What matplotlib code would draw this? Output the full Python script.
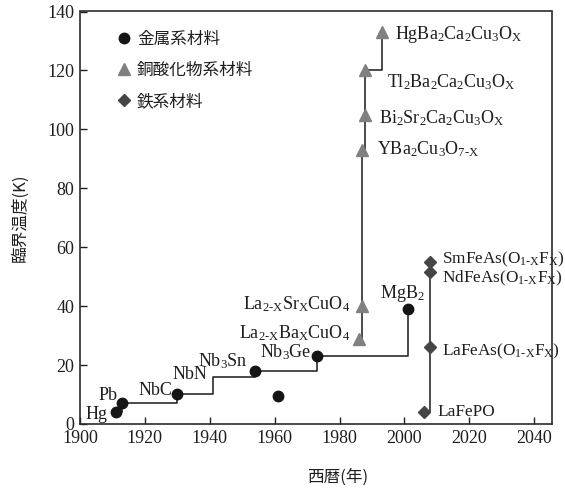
import matplotlib
matplotlib.use("Agg")
import matplotlib.pyplot as plt

plt.rcParams["font.family"] = ["Liberation Serif", "Noto Sans CJK JP"]
plt.rcParams["mathtext.fontset"] = "custom"
plt.rcParams["mathtext.rm"] = "Liberation Serif"
plt.rcParams["mathtext.it"] = "Liberation Serif"
plt.rcParams["mathtext.bf"] = "Liberation Serif:bold"

INK = "#1e1e1e"
LINE = "#2b2b2b"
METAL_COLOR = "#151515"
CUPRATE_COLOR = "#808080"
IRON_COLOR = "#454545"
JP = ["Noto Sans CJK JP", "DejaVu Sans"]

# metal-based superconductors (record line)
metal_names = ["Hg", "Pb", "NbC", "NbN", "Nb$_3$Sn", "Nb$_3$Ge", "MgB$_2$"]
metal_years = [1911, 1913, 1930, 1941, 1954, 1973, 2001]
metal_tc = [4.2, 7.2, 10.2, 16, 18, 23, 39]
metal_marked = [True, True, True, False, True, True, True]
# extra unlabelled metal point
other_years = [1961]
other_tc = [9.5]

# cuprates
cuprate_names = [r"La$_{\mathrm{2\text{-}X}}$Ba$_\mathrm{X}$CuO$_4$",
                 r"La$_{\mathrm{2\text{-}X}}$Sr$_\mathrm{X}$CuO$_4$",
                 r"YBa$_2$Cu$_3$O$_{\mathrm{7\text{-}X}}$",
                 r"Bi$_2$Sr$_2$Ca$_2$Cu$_3$O$_\mathrm{X}$",
                 r"Tl$_2$Ba$_2$Ca$_2$Cu$_3$O$_\mathrm{X}$",
                 r"HgBa$_2$Ca$_2$Cu$_3$O$_\mathrm{X}$"]
cuprate_years = [1986, 1987, 1987, 1988, 1988, 1993]
cuprate_tc = [29, 40, 93, 105, 120, 133]

# iron-based
iron_names = ["LaFePO",
              r"LaFeAs(O$_{\mathrm{1\text{-}X}}$F$_\mathrm{X}$)",
              r"NdFeAs(O$_{\mathrm{1\text{-}X}}$F$_\mathrm{X}$)",
              r"SmFeAs(O$_{\mathrm{1\text{-}X}}$F$_\mathrm{X}$)"]
iron_years = [2006, 2008, 2008, 2008]
iron_tc = [4, 26, 51.5, 55]

# label placement (pixel offsets from marker, horizontal alignment)
metal_offsets = [(-8, -3, "right"), (-5, 7, "right"), (-5, 3, "right"), (-6, 2, "right"),
                 (-8, 10, "right"), (-5, 4, "right"), (-5, 16, "center")]
cuprate_offsets = [(-9, 5, "right"), (-12, 2, "right"), (15, 1, "left"),
                   (14, -4, "left"), (22, -12, "left"), (13, -2, "left")]
iron_offsets = [(14, 0, "left"), (12, -4, "left"), (12, -6, "left"), (12, 3, "left")]

fig = plt.figure(figsize=(5.65, 4.88), dpi=100, facecolor="white")
ax = fig.add_axes([80 / 565, 64 / 488, 471.7 / 565, 412.5 / 488])

ax.plot(metal_years, metal_tc, drawstyle="steps-post", color=LINE, lw=1.2, zorder=2)
ax.plot(cuprate_years, cuprate_tc, drawstyle="steps-post", color=LINE, lw=1.2, zorder=2)
ax.plot(iron_years, iron_tc, drawstyle="steps-post", color=LINE, lw=1.2, zorder=2)

mx = [y for y, m in zip(metal_years, metal_marked) if m]
my = [t for t, m in zip(metal_tc, metal_marked) if m]
ax.plot(mx + other_years, my + other_tc, "o", color=METAL_COLOR, ms=7.5, zorder=3,
        label="金属系材料")
ax.plot(cuprate_years, cuprate_tc, "^", color=CUPRATE_COLOR, ms=9, zorder=3,
        label="銅酸化物系材料")
ax.plot(iron_years, iron_tc, "D", color=IRON_COLOR, ms=6.5, zorder=3, label="鉄系材料")

groups = [(metal_names, metal_years, metal_tc, metal_offsets, 13),
          (cuprate_names, cuprate_years, cuprate_tc, cuprate_offsets, 13),
          (iron_names, iron_years, iron_tc, iron_offsets, 12.4)]
for names, xs, ys, offs, size in groups:
    for name, x, y, (dx, dy, ha) in zip(names, xs, ys, offs):
        ax.annotate(name, (x, y), xytext=(dx, dy), textcoords="offset pixels",
                    ha=ha, va="center", fontsize=size, color=INK, zorder=4,
                    annotation_clip=False)

ax.set_xlim(1900, 2045.4)
ax.set_ylim(0, 140)
ax.set_xticks(range(1900, 2041, 20))
ax.set_yticks(range(0, 141, 20))
ax.tick_params(direction="in", length=5, width=1, labelsize=13, colors=INK, pad=4)
for spine in ax.spines.values():
    spine.set_color(LINE)
    spine.set_linewidth(1.2)

ax.set_xlabel("西暦(年)", family=JP, fontsize=12, color=INK, va="center")
ax.xaxis.set_label_coords((338 - 80) / 471.7, -(477 - 424) / 412.5)
ax.set_ylabel("臨界温度(K)", family=JP, fontsize=12, color=INK, va="center")
ax.yaxis.set_label_coords(-(80 - 20) / 471.7, 0.5)

leg = ax.legend(loc="upper left", bbox_to_anchor=(0.047, 0.99), frameon=False,
                handlelength=0.8, handletextpad=0.4, labelspacing=0.85,
                prop={"family": JP, "size": 12}, numpoints=1)
for text in leg.get_texts():
    text.set_color(INK)

fig.savefig("out.png", dpi=100, facecolor="white")
